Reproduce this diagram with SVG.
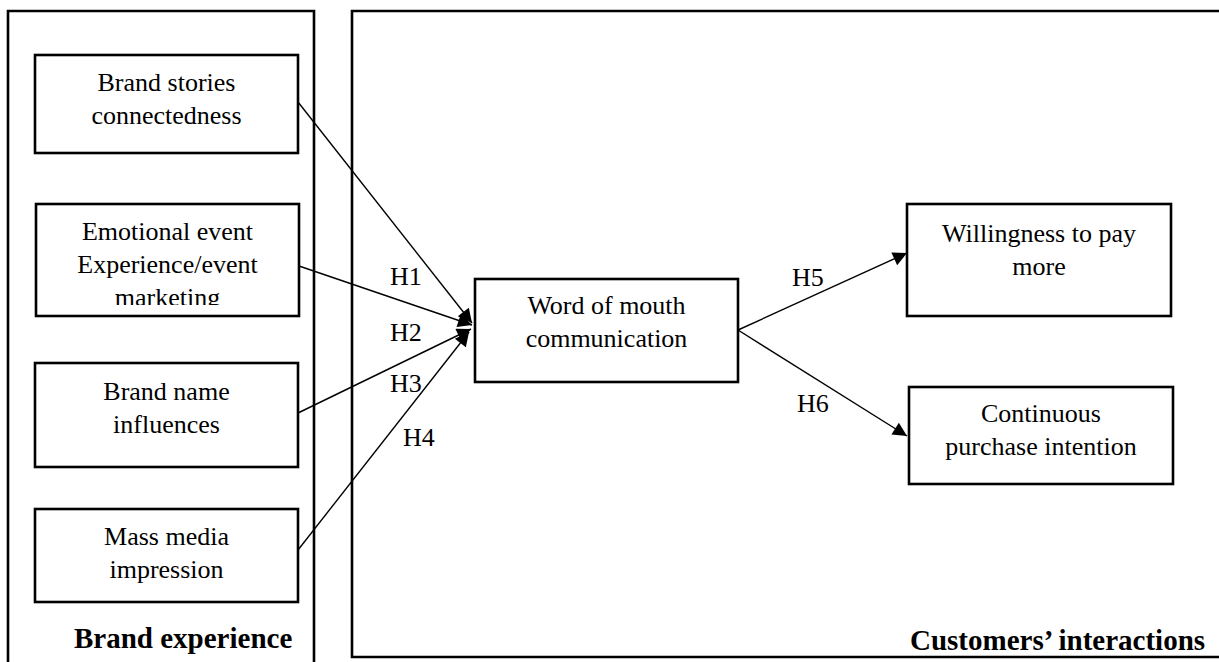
<svg xmlns="http://www.w3.org/2000/svg" width="1219" height="662" viewBox="0 0 1219 662">
  <style>
    .box { fill: #fff; stroke: #000; stroke-width: 2.6; }
    .frame { fill: none; stroke: #000; stroke-width: 2.6; }
    .t { font-family: "Liberation Serif", "Times New Roman", serif; font-size: 26px; fill: #000; text-anchor: middle; }
    .h { font-family: "Liberation Serif", "Times New Roman", serif; font-size: 26px; fill: #000; }
    .b { font-family: "Liberation Serif", "Times New Roman", serif; font-size: 29px; font-weight: bold; fill: #000; }
    .c { stroke: #000; stroke-width: 1.4; fill: none; marker-end: url(#ah); }
  </style>
  <defs>
    <marker id="ah" viewBox="0 0 10 10" refX="10" refY="5" markerWidth="19" markerHeight="14" markerUnits="userSpaceOnUse" orient="auto">
      <path d="M0,0 L10,5 L0,10 Z" fill="#000"/>
    </marker>
    <clipPath id="clipEmo">
      <rect x="36" y="204" width="263" height="101"/>
    </clipPath>
  </defs>
  <rect width="1219" height="662" fill="#fff"/>

  <g id="brand-experience">
    <path class="frame" d="M8,664 L8,11 L314,11 L314,664"/>
    <text class="b" x="74" y="648">Brand experience</text>
  </g>
  <g id="customers-interactions">
    <path class="frame" d="M1222,11 L352,11 L352,657 L1222,657"/>
    <text class="b" x="910" y="650">Customers’ interactions</text>
  </g>

  <g id="brand-stories">
    <rect class="box" x="35" y="55" width="263" height="98"/>
    <text class="t" x="166.5" y="91">Brand stories</text>
    <text class="t" x="166.5" y="124">connectedness</text>
  </g>
  <g id="emotional-event">
    <rect class="box" x="36" y="204" width="263" height="112"/>
    <g clip-path="url(#clipEmo)">
      <text class="t" x="167.5" y="240">Emotional event</text>
      <text class="t" x="167.5" y="273">Experience/event</text>
      <text class="t" x="167.5" y="306">marketing</text>
    </g>
  </g>
  <g id="brand-name">
    <rect class="box" x="35" y="363" width="263" height="104"/>
    <text class="t" x="166.5" y="400">Brand name</text>
    <text class="t" x="166.5" y="433">influences</text>
  </g>
  <g id="mass-media">
    <rect class="box" x="35" y="509" width="263" height="93"/>
    <text class="t" x="166.5" y="545">Mass media</text>
    <text class="t" x="166.5" y="578">impression</text>
  </g>
  <g id="word-of-mouth">
    <rect class="box" x="475" y="279" width="263" height="103"/>
    <text class="t" x="606.5" y="314">Word of mouth</text>
    <text class="t" x="606.5" y="347">communication</text>
  </g>
  <g id="willingness">
    <rect class="box" x="907" y="204" width="264" height="112"/>
    <text class="t" x="1039" y="242">Willingness to pay</text>
    <text class="t" x="1039" y="275">more</text>
  </g>
  <g id="continuous">
    <rect class="box" x="909" y="387" width="264" height="97"/>
    <text class="t" x="1041" y="422">Continuous</text>
    <text class="t" x="1041" y="455">purchase intention</text>
  </g>

  <g id="connectors">
    <line class="c" x1="298" y1="102" x2="472" y2="323"/>
    <line class="c" x1="299" y1="266" x2="472" y2="325"/>
    <line class="c" x1="298" y1="413" x2="471" y2="329"/>
    <line class="c" x1="298" y1="550" x2="469" y2="332"/>
    <line class="c" x1="738" y1="330" x2="907" y2="253"/>
    <line class="c" x1="738" y1="330" x2="907" y2="436"/>
    <text class="h" x="390" y="285">H1</text>
    <text class="h" x="390" y="341">H2</text>
    <text class="h" x="390" y="392">H3</text>
    <text class="h" x="403" y="446">H4</text>
    <text class="h" x="792" y="286">H5</text>
    <text class="h" x="797" y="412">H6</text>
  </g>
</svg>
